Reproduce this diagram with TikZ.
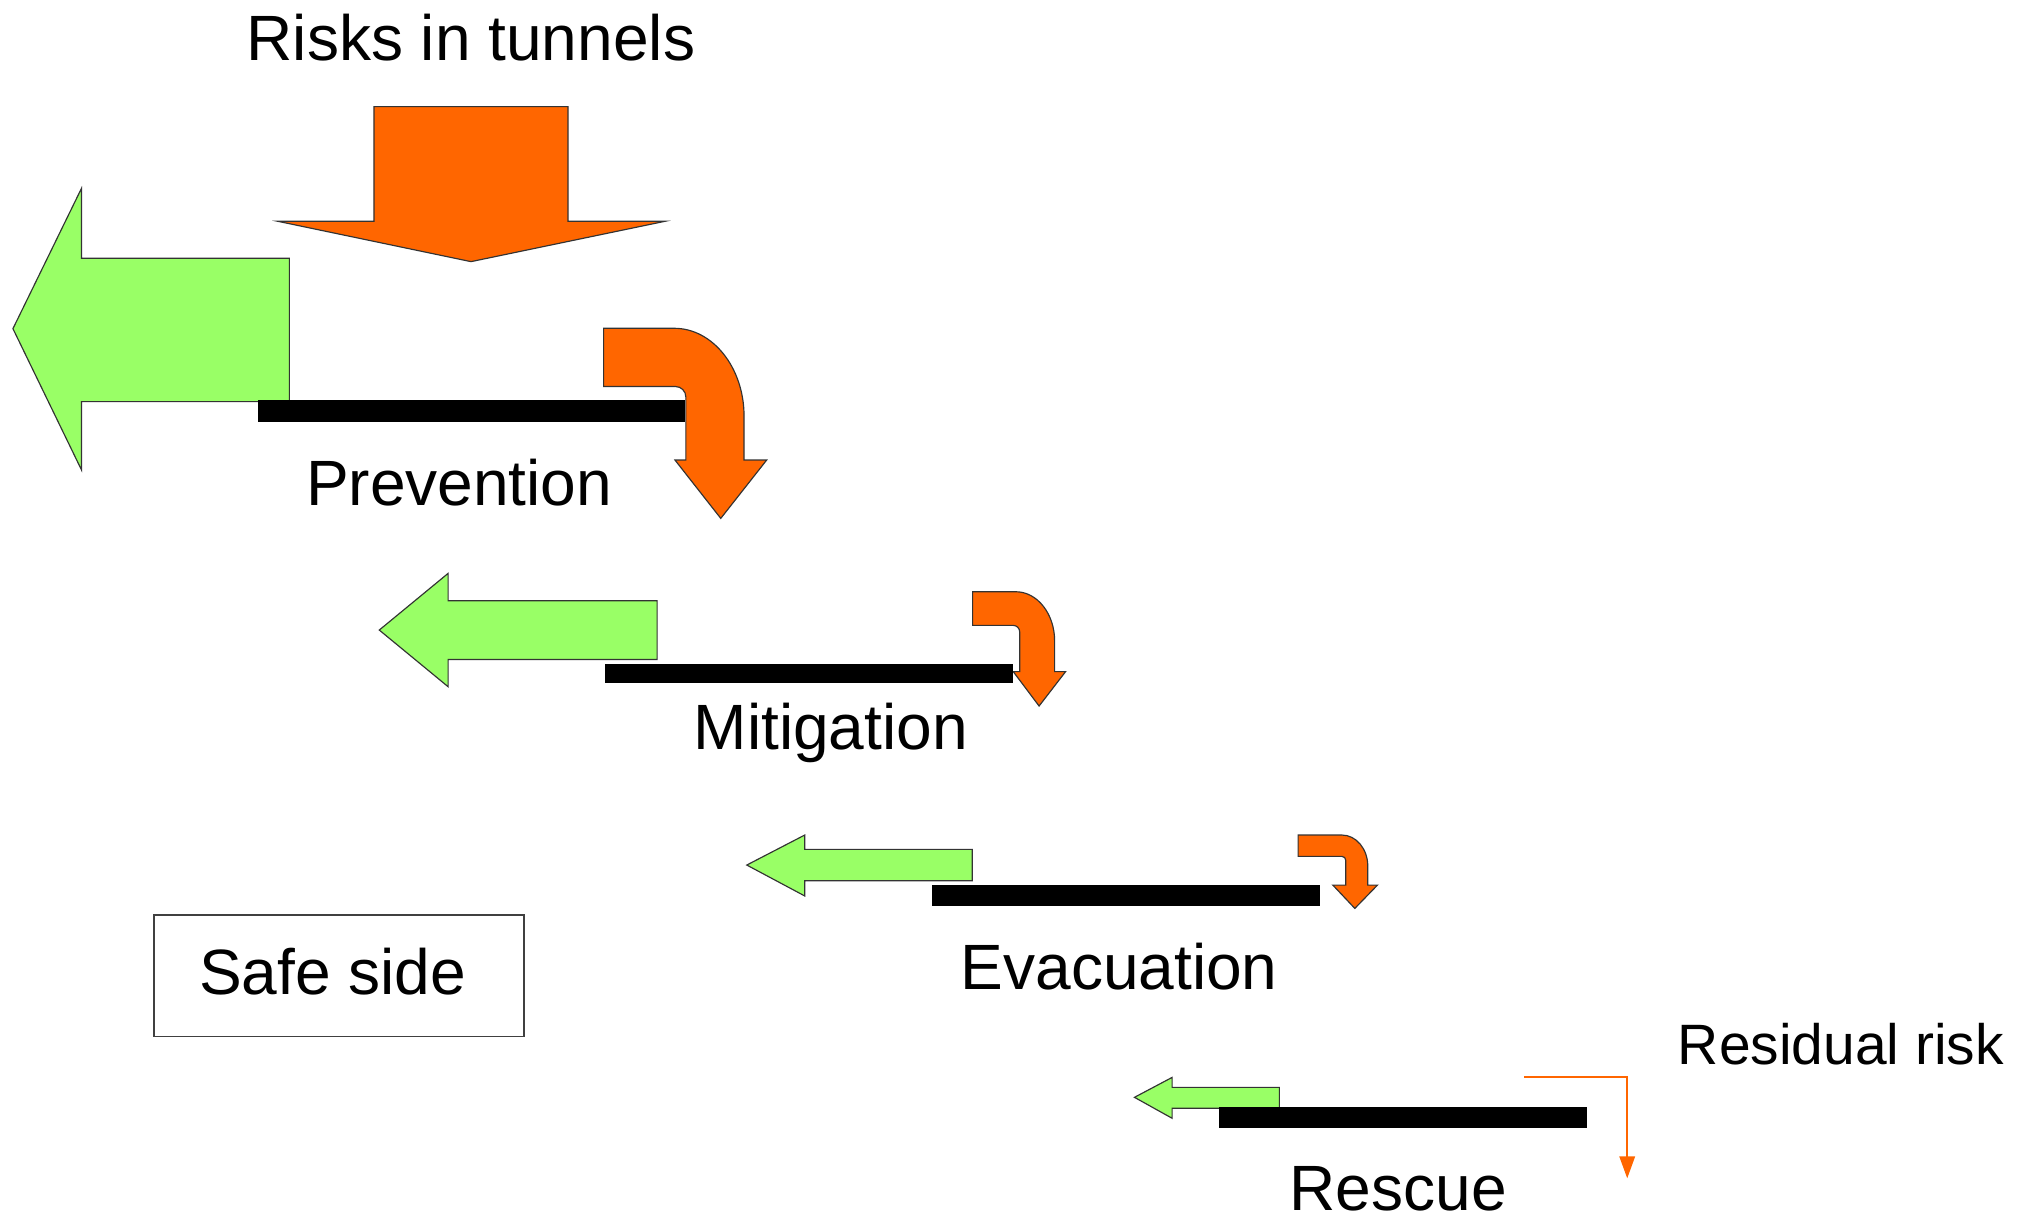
\documentclass[tikz,border=0pt]{standalone}
\usepackage{fontspec}
\setmainfont{Liberation Sans}
\usetikzlibrary{arrows.meta}
\definecolor{rorange}{HTML}{FF6600}
\definecolor{sgreen}{HTML}{99FF66}
\begin{document}
\begin{tikzpicture}[x=1pt,y=1pt,
  lbl/.style={inner sep=0pt, anchor=base, font=\fontsize{49.5}{59}\selectfont},
  greenarrow/.style={fill=sgreen, draw=black!80, line width=0.9pt, line join=miter},
  orangearrow/.style={fill=rorange, draw=black!80, line width=0.9pt, line join=miter},
  barstyle/.style={fill=black},
  safebox/.style={draw=black!75, line width=1.2pt, inner sep=0pt, minimum width=286pt, minimum height=94pt},
  resid/.style={rorange, line width=1.4pt, -{Triangle[length=17pt,width=12pt]}}
]
\useasboundingbox (0,0) rectangle (1568,-943.6);

% big orange arrow: risks in tunnels
\draw[orangearrow] (289,-82.4) -- (439,-82.4) -- (439,-171) -- (514,-171) -- (364,-202.2) -- (214.6,-171) -- (289,-171) -- cycle;

% green arrows (towards the safe side)
\draw[greenarrow] (10,-254) -- (63,-145.5) -- (63,-199.6) -- (223.6,-199.6) -- (223.6,-310.4) -- (63,-310.4) -- (63,-363.2) -- cycle;
\draw[greenarrow] (293.1,-486.9) -- (346.3,-443.1) -- (346.3,-464.2) -- (507.8,-464.2) -- (507.8,-509.6) -- (346.3,-509.6) -- (346.3,-530.7) -- cycle;
\draw[greenarrow] (577.1,-668.5) -- (621.9,-645.3) -- (621.9,-656.4) -- (751.3,-656.4) -- (751.3,-680.6) -- (621.9,-680.6) -- (621.9,-692.4) -- cycle;
\draw[greenarrow] (876.7,-848) -- (905.8,-832.6) -- (905.8,-840.3) -- (988.7,-840.3) -- (988.7,-856.5) -- (905.8,-856.5) -- (905.8,-864.2) -- cycle;

% bent orange arrows
\draw[orangearrow] (466.5,-253.7) -- (521,-253.7) arc[start angle=90,end angle=0,x radius=54,y radius=68] -- (575,-355.5) -- (592.5,-355.5) -- (557,-400.6) -- (521.6,-355.5) -- (530,-355.5) -- (530,-306.7) arc[start angle=0,end angle=90,radius=8] -- (466.5,-298.7) -- cycle;
\draw[orangearrow] (751.6,-457.3) -- (785,-457.3) arc[start angle=90,end angle=0,x radius=30,y radius=38] -- (815,-519) -- (823.5,-519) -- (803,-545.6) -- (783,-519) -- (788,-519) -- (788,-488.3) arc[start angle=0,end angle=90,radius=5] -- (751.6,-483.3) -- cycle;
\draw[orangearrow] (1003.2,-645.3) -- (1037,-645.3) arc[start angle=90,end angle=0,x radius=20,y radius=24] -- (1057,-684) -- (1064.5,-684) -- (1047,-702) -- (1030,-684) -- (1040,-684) -- (1040,-664.8) arc[start angle=0,end angle=90,radius=3] -- (1003.2,-661.8) -- cycle;

% black bars
\fill[barstyle] (199,-309) rectangle (529.5,-326);
\fill[barstyle] (467.7,-513.2) rectangle (782.9,-528.1);
\fill[barstyle] (720.3,-683.9) rectangle (1020.4,-700.2);
\fill[barstyle] (941.7,-855.7) rectangle (1226.1,-872);

% residual risk arrow
\coordinate (rr0) at (1177.8,-832);
\coordinate (rr1) at (1257.5,-832);
\coordinate (rr2) at (1257.5,-910.6);
\draw[resid] (rr0) -- (rr1) -- (rr2);

% labels
\node[lbl] (risks) at (363.9,-46.9) {Risks in tunnels};
\node[lbl] (prev) at (354.8,-390.3) {Prevention};
\node[lbl] (miti) at (642,-579.1) {Mitigation};
\node[lbl] (evac) at (864.9,-765) {Evacuation};
\node[lbl] (resc) at (1080.6,-935.5) {Rescue};
\node[lbl, font=\fontsize{44}{52}\selectfont] (residual) at (1422.6,-823) {Residual risk};

% safe side box
\node[safebox] (safe) at (262,-754.15) {};
\node[lbl] (safetext) at (257,-768.9) {Safe side};
\end{tikzpicture}
\end{document}
